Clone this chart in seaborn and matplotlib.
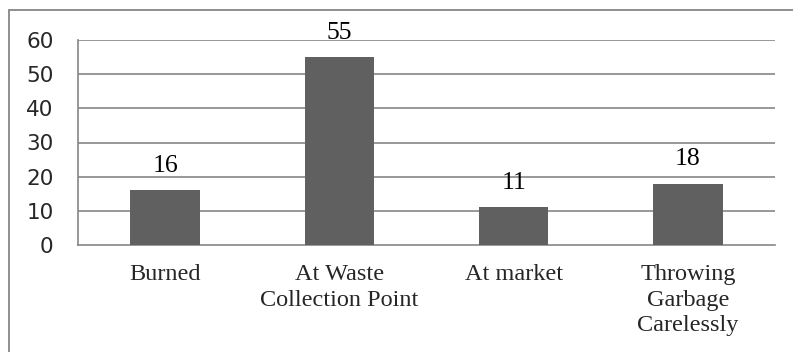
import matplotlib
matplotlib.use("Agg")
import matplotlib.pyplot as plt
import seaborn as sns
import pandas as pd
from matplotlib.patches import Rectangle

categories = ["Burned", "At Waste\nCollection Point", "At market", "Throwing\nGarbage\nCarelessly"]
values = [16, 55, 11, 18]
y_ticks = [0, 10, 20, 30, 40, 50, 60]

sns.set_theme(style="white")
plt.rcParams["font.family"] = ["DejaVu Sans"]

W, H = 793, 352
fig = plt.figure(figsize=(W / 100, H / 100), dpi=100)
ax = fig.add_axes([78 / W, 1 - 245 / H, (775 - 78) / W, (245 - 40) / H])

df = pd.DataFrame({"category": categories, "value": values})
grid_color = "#868686"
sns.barplot(data=df, x="category", y="value", color="#606060", saturation=1,
            width=0.4, ax=ax, edgecolor="none", zorder=3)

ax.set_ylim(0, 60)
ax.set_xlim(-0.5, len(categories) - 0.5)
ax.set_yticks(y_ticks)
ax.set_yticklabels([str(t) for t in y_ticks], fontsize=15.5, fontfamily="DejaVu Sans")
ax.set_xlabel("")
ax.set_ylabel("")

# horizontal gridlines
for t in y_ticks[1:]:
    ax.axhline(t, color=grid_color, lw=1.2, zorder=1)

for s in ["top", "right"]:
    ax.spines[s].set_visible(False)
for s in ["left", "bottom"]:
    ax.spines[s].set_color(grid_color)
    ax.spines[s].set_linewidth(1.2)

# category boundary ticks on the x axis
ax.set_xticks([i - 0.5 for i in range(len(categories) + 1)], minor=True)
ax.tick_params(axis="x", which="minor", length=5, width=1.2, color=grid_color, direction="out")
ax.tick_params(axis="x", which="major", length=0, pad=14)
ax.tick_params(axis="y", length=6.5, width=1.2, color=grid_color, direction="out", pad=11)
ax.set_xticks(range(len(categories)))
ax.set_xticklabels(categories, fontsize=17.5, fontfamily="Liberation Serif", linespacing=1.26, va="top")

for i, v in enumerate(values):
    ax.annotate(str(v), (i, v), xytext=(0, 13), textcoords="offset points",
                ha="center", va="baseline", fontsize=18.5, fontfamily="Liberation Serif",
                color="black", zorder=4)

# outer chart frame
fig.patches.append(Rectangle((9 / W, -0.1), 1.2, 1 - 10 / H + 0.1, transform=fig.transFigure,
                             fill=False, edgecolor=grid_color, lw=1.3))

fig.savefig("out.png", dpi=100)
